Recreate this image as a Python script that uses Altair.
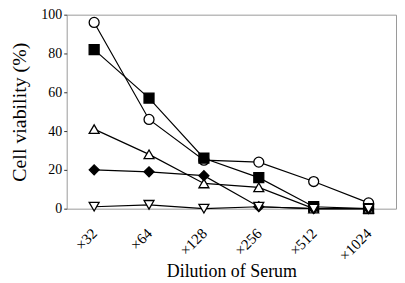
import altair as alt
import pandas as pd

dilutions = ["×32", "×64", "×128", "×256", "×512", "×1024"]
open_circle = [96, 46, 25, 24, 14, 3]
filled_square = [82, 57, 26, 16, 1, 0]
open_triangle_up = [41, 28, 13, 11, 0, 0]
filled_diamond = [20, 19, 17, 1, 0, 0]
open_triangle_down = [1, 2, 0, 1, 0, 0]

series = [
    ("A", open_circle, "circle", "white"),
    ("B", filled_square, "square", "black"),
    ("C", open_triangle_up, "triangle-up", "white"),
    ("D", filled_diamond, "diamond", "black"),
    ("E", open_triangle_down, "triangle-down", "white"),
]

rows = []
for name, vals, shape, fill in series:
    for d, v in zip(dilutions, vals):
        rows.append({"series": name, "dilution": d, "value": v})
df = pd.DataFrame(rows)

names = [s[0] for s in series]
shapes = [s[2] for s in series]
fills = [s[3] for s in series]

font = "Liberation Serif"

x = alt.X("dilution:N", sort=dilutions,
          scale=alt.Scale(type="point", padding=0.5),
          axis=alt.Axis(title="Dilution of Serum", labelAngle=-45, labelAlign="right",
                        labelBaseline="middle", labelPadding=22, ticks=False,
                        labelFontSize=15, titleFontSize=18, titlePadding=-1,
                        domain=False, labelFont=font, titleFont=font,
                        labelColor="black", titleColor="black", titleFontWeight="normal"))
y = alt.Y("value:Q", scale=alt.Scale(domain=[0, 100]),
          axis=alt.Axis(title="Cell viability (%)", values=[0, 20, 40, 60, 80, 100],
                        grid=False, tickSize=3, tickColor="#333", labelFontSize=14,
                        titleFontSize=20, titlePadding=11, domain=False,
                        labelPadding=2, labelFont=font, titleFont=font,
                        labelColor="black", titleColor="black", titleFontWeight="normal"))

base = alt.Chart(df)
lines = base.mark_line(color="black", strokeWidth=1.2).encode(
    x=x, y=y, detail="series:N")
points = base.mark_point(size=100, strokeWidth=1.3, opacity=1, stroke="black").encode(
    x=x, y=y,
    shape=alt.Shape("series:N", scale=alt.Scale(domain=names, range=shapes), legend=None),
    fill=alt.Fill("series:N", scale=alt.Scale(domain=names, range=fills), legend=None),
)

chart = (lines + points).properties(
    width=331, height=195, background="white",
    autosize=alt.AutoSizeParams(type="none"),
    padding={"left": 59, "top": 6, "right": 1, "bottom": 72}
).configure_view(stroke="#999", strokeWidth=1)

chart.save("out.html", embed_options={"renderer": "svg", "actions": False})
